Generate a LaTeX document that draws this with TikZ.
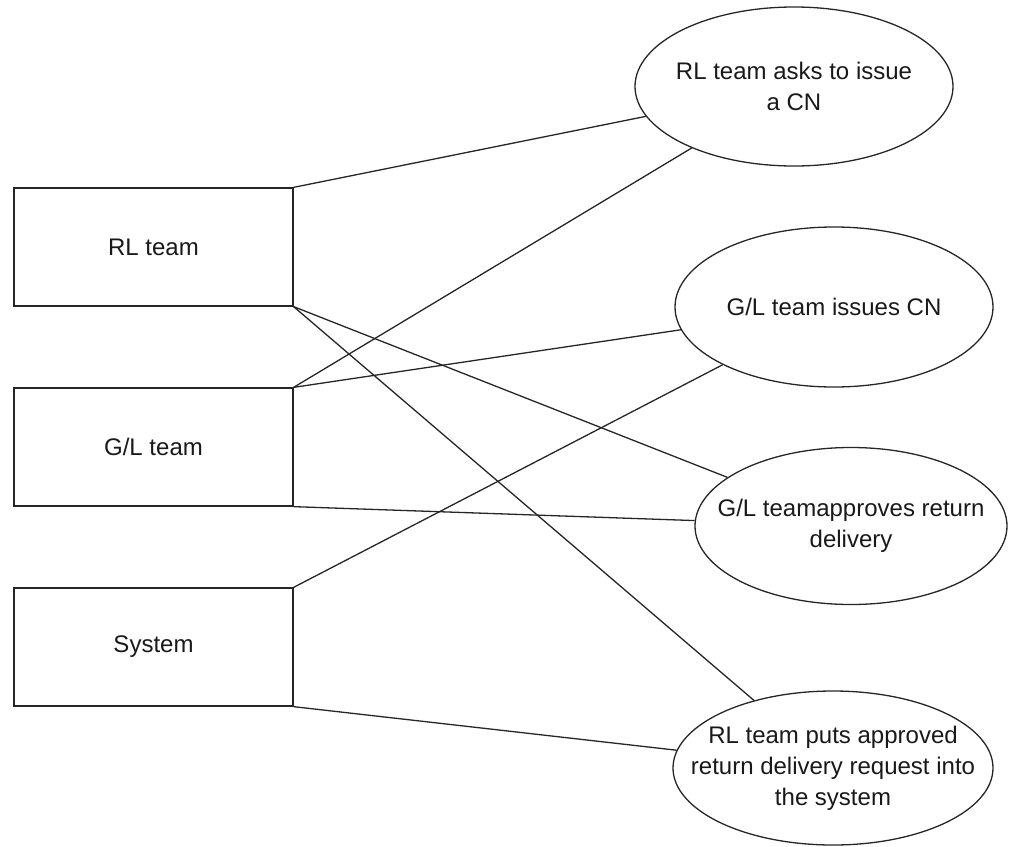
\documentclass[tikz,border=0pt]{standalone}
\usepackage{fontspec}
\setmainfont{Liberation Sans}
\usetikzlibrary{shapes.geometric}
\begin{document}
\begin{tikzpicture}[x=1pt,y=-1pt,
  every node/.style={font=\fontsize{24}{31}\selectfont, text=black!90},
  actor/.style={draw=black!85, line width=1.3pt, rectangle, minimum width=279pt, minimum height=118pt, inner sep=0pt},
  usecase/.style={draw=black!85, line width=1.3pt, ellipse, inner sep=0pt},
  link/.style={draw=black!85, line width=1.3pt}]
\useasboundingbox (0,0) rectangle (1009,846);

% actors
\node[actor] (rl)  at (153.5,247) {RL team};
\node[actor] (gl)  at (153.5,447) {G/L team};
\node[actor] (sys) at (153.5,647) {System};

% use cases
\node[usecase, minimum width=318pt, minimum height=159pt,
  label={[align=center]center:RL team asks to issue\\a CN}] (e1) at (794,86.5) {};
\node[usecase, minimum width=318pt, minimum height=160pt,
  label={[align=center]center:G/L team issues CN}] (e2) at (834,307) {};
\node[usecase, minimum width=312pt, minimum height=157pt,
  label={[align=center]center:G/L teamapproves return\\delivery}] (e3) at (851,526) {};
\node[usecase, minimum width=320pt, minimum height=154pt,
  label={[align=center]center:RL team puts approved\\return delivery request into\\the system}] (e4) at (833,768) {};

% associations
\draw[link] (rl.north east) -- (e1);
\draw[link] (gl.north east) -- (e1);
\draw[link] (gl.north east) -- (e2);
\draw[link] (sys.north east) -- (e2);
\draw[link] (rl.south east) -- (e3);
\draw[link] (rl.south east) -- (e4);
\draw[link] (gl.south east) -- (e3);
\draw[link] (sys.south east) -- (e4);
\end{tikzpicture}
\end{document}
